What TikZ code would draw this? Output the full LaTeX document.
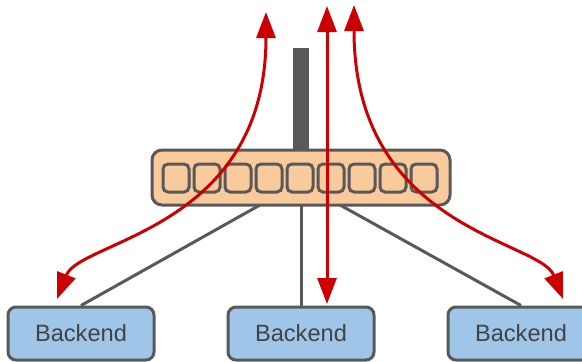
\documentclass[tikz,border=0pt]{standalone}
\usepackage{fontspec}
\setmainfont{Liberation Sans}
\usetikzlibrary{arrows.meta}
\definecolor{swfill}{HTML}{F9CB9C}
\definecolor{befill}{HTML}{9FC5E8}
\definecolor{gline}{HTML}{595959}
\definecolor{rline}{HTML}{CC0000}
\definecolor{txt}{HTML}{434343}
\begin{document}
\begin{tikzpicture}[x=1pt,y=-1pt,
 backend/.style={draw=gline, line width=3pt, fill=befill, rounded corners=8pt, minimum width=146pt, minimum height=53pt, inner sep=0pt, text=txt, font=\fontsize{23.6}{28}\selectfont},
 switchbox/.style={draw=gline, line width=3pt, fill=swfill, rounded corners=10pt, minimum width=298pt, minimum height=55pt, inner sep=0pt},
 port/.style={draw=gline, line width=3pt, fill=swfill, rounded corners=5pt, minimum width=26pt, minimum height=28pt, inner sep=0pt},
 antenna/.style={fill=gline, minimum width=16pt, minimum height=104pt, inner sep=0pt},
 link/.style={draw=gline, line width=3pt},
 flow/.style={draw=rline, line width=3pt, {Triangle[length=26pt,width=19pt]}-{Triangle[length=26pt,width=19pt]}},
]
\clip (0,0) rectangle (582,362);
% antenna
\node[antenna] (ant) at (301,100) {};
% links
\coordinate (s1) at (260,205);
\coordinate (s2) at (301,205);
\coordinate (s3) at (340,205);
\node[backend] (b1) at (81,333.5) {Backend};
\node[backend] (b2) at (301,333.5) {Backend};
\node[backend] (b3) at (521,333.5) {Backend};
\draw[link] (s1) -- (b1.north);
\draw[link] (s2) -- (b2.north);
\draw[link] (s3) -- (b3.north);
% switch
\node[switchbox] (sw) at (301,177.5) {};
\foreach \i in {0,...,8} {
  \node[port] (p\i) at ({176+31*\i},178) {};
}
% flows
\coordinate (t1) at (266,12);
\coordinate (e1) at (57,299);
\coordinate (t2) at (327,6);
\coordinate (e2) at (327,304);
\coordinate (t3) at (354,5);
\coordinate (e3) at (563,299);
\draw[flow] (e1) .. controls (80,240) and (266,230) .. (t1);
\draw[flow] (e2) -- (t2);
\draw[flow] (e3) .. controls (540,240) and (354,230) .. (t3);
\end{tikzpicture}
\end{document}
